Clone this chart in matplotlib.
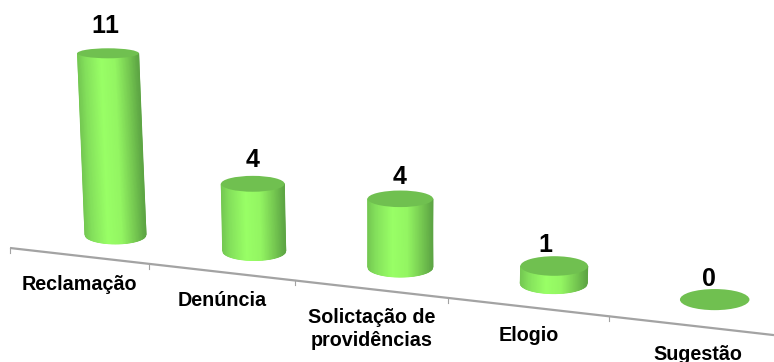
"""
3D style cylinder chart, drawn on a pixel-sized axes.
"""

import matplotlib
matplotlib.use('Agg')
import matplotlib.pyplot as plt
import numpy as np
from matplotlib.colors import LinearSegmentedColormap
from matplotlib.patches import Ellipse

categories = ["Reclamação", "Denúncia", "Solictação de\nprovidências", "Elogio", "Sugestão"]
values = [11, 4, 4, 1, 0]

WIDTH, HEIGHT = 774, 362
LABEL_DX = [-3, 0, -1, -9, -6]
LABEL_DY = [1, 0, 2, 0, 0]
CATEGORY_DX = [0, 0, 0, 0, 4]

TOP_COLOR = '#70c050'
AXIS_COLOR = '#a3a3a3'
side_cmap = LinearSegmentedColormap.from_list(
    'side',
    [(0.0, '#74c852'), (0.12, '#84e05c'), (0.38, '#99ff66'), (0.62, '#93f562'),
     (0.85, '#74c650'), (1.0, '#5da544')],
)

plt.rcParams['text.kerning_factor'] = 6


def base_x(i):
    """Perspective spacing of the cylinders along the floor."""
    return 115.5 + 135 * i + 3.7 * i ** 2


def base_y(i):
    return 234.8 + 16.2 * i


def unit(i):
    """Pixels per count, larger for the cylinders nearer the viewer."""
    return 16.5 + 0.3 * i


def tick_x(k):
    return 10 + 135 * k + 3.7 * k ** 2


def axis_y(x):
    return 248 + (x - 10) * 0.114


def semi_height(y):
    """Ellipses open up the lower they sit in the picture."""
    return 5 + (y - 53) * 0.0225


def draw_cylinder(ax, i, value):
    x0, y0 = base_x(i), base_y(i)
    half = (61 + 2 * i) / 2
    y1 = y0 - value * unit(i)
    x1 = x0 + (x0 - 400) * (y0 - y1) * 1.44e-4  # walls lean towards a vanishing point

    if value > 0:
        u = np.linspace(0, 1, 80)
        bottom_bulge = semi_height(y0) * np.sqrt(1 - (2 * u - 1) ** 2)
        v = np.array([0.0, 1.0])
        xs = np.outer(1 - v, x1 - half + 2 * half * u) + np.outer(v, x0 - half + 2 * half * u)
        ys = np.outer(1 - v, np.full_like(u, y1)) + np.outer(v, y0 + bottom_bulge)
        ax.pcolormesh(xs, ys, np.vstack([u, u]), shading='gouraud', cmap=side_cmap,
                      vmin=0, vmax=1, zorder=2, rasterized=True)

    ax.add_patch(Ellipse((x1, y1), 2 * half + 0.5, 2 * semi_height(y1),
                         facecolor=TOP_COLOR, edgecolor='none', zorder=3))

    ax.text(x1 + LABEL_DX[i], y1 - 36 + 1.5 * semi_height(y1) + LABEL_DY[i], str(value),
            ha='center', va='center', fontsize=18, fontweight='bold',
            family='Liberation Sans', color='black', zorder=4)


def draw_axis(ax):
    ends = np.array([tick_x(0), WIDTH])
    ax.plot(ends, axis_y(ends), color=AXIS_COLOR, linewidth=1.6, zorder=1,
            solid_capstyle='butt')
    for k in range(5):
        x = tick_x(k)
        ax.plot([x, x], [axis_y(x), axis_y(x) + 5], color=AXIS_COLOR, linewidth=0.8, zorder=1)


def draw_labels(ax):
    for k, label in enumerate(categories):
        x = (tick_x(k) + tick_x(k + 1)) / 2
        n_lines = label.count('\n') + 1
        ax.text(x + CATEGORY_DX[k], axis_y(x) + 28.5 + 11.5 * (n_lines - 1), label,
                ha='center', va='center', fontsize=14.2, fontweight='bold',
                family='Liberation Sans', linespacing=1.25, color='black', zorder=4)


fig = plt.figure(figsize=(WIDTH / 100, HEIGHT / 100), dpi=100)
ax = fig.add_axes([0, 0, 1, 1])
ax.set_xlim(0, WIDTH)
ax.set_ylim(HEIGHT, 0)
ax.axis('off')

draw_axis(ax)
for i, value in enumerate(values):
    draw_cylinder(ax, i, value)
draw_labels(ax)

fig.savefig('out.png', dpi=100)
plt.close(fig)
